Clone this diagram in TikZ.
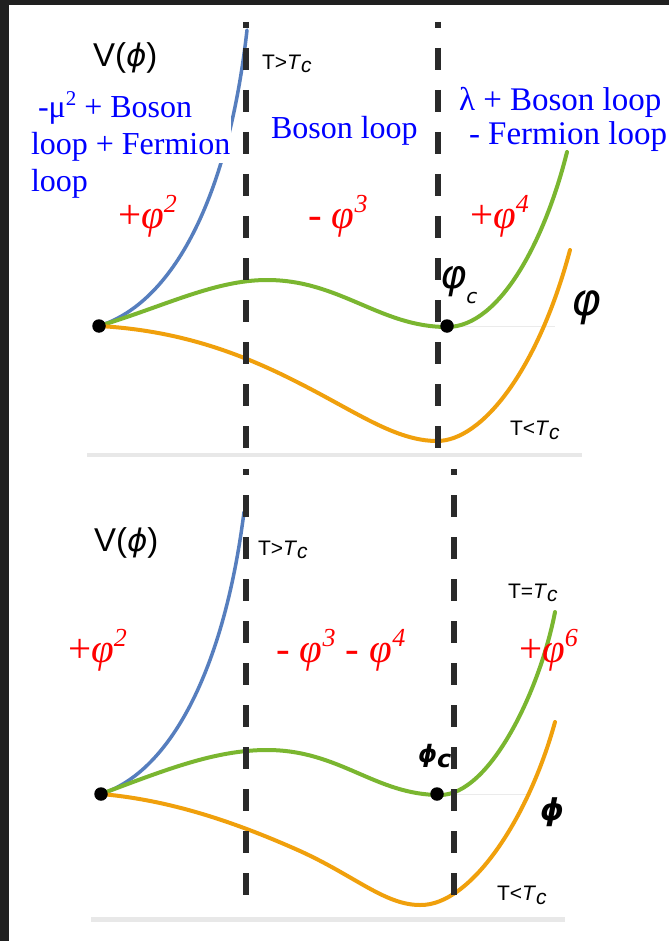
\documentclass[tikz,border=0pt]{standalone}
\usepackage{fontspec}
\setmainfont{Liberation Serif}
\newfontfamily\arialf{Liberation Sans}
\newfontfamily\dejavuf{DejaVu Sans}
\definecolor{txtblue}{RGB}{0,0,255}
\definecolor{txtred}{RGB}{255,0,0}
\definecolor{cblue}{RGB}{86,126,190}
\definecolor{cgreen}{RGB}{122,182,48}
\definecolor{corange}{RGB}{240,160,12}
\definecolor{divgray}{RGB}{42,42,42}
\definecolor{framedark}{RGB}{32,32,32}
\newcommand{\sups}[3]{\raisebox{#2}{\fontsize{#1}{#1}\selectfont #3}}
\newcommand{\stphi}[1]{{\dejavuf\itshape\fontsize{#1}{#1}\selectfont ϕ}}
\begin{document}
\begin{tikzpicture}[x=1pt,y=-1pt,
  lbl/.style={anchor=base west, inner sep=0pt, outer sep=0pt},
  bluetxt/.style={lbl, text=txtblue, font=\fontsize{32}{32}\selectfont},
  bluetxtr/.style={lbl, text=txtblue, font=\fontsize{33}{33}\selectfont},
  redtxt/.style={lbl, text=txtred, font=\fontsize{41}{41}\selectfont},
  tlbl/.style={lbl, font=\arialf\fontsize{21}{21}\selectfont},
  vlbl/.style={lbl, font=\arialf\fontsize{33}{33}\selectfont},
  divider/.style={line width=5.5pt, draw=divgray, dash pattern=on 22pt off 20pt, dash phase=16pt},
  bluecurve/.style={draw=cblue, line width=3.5pt, line cap=round},
  greencurve/.style={draw=cgreen, line width=4pt, line cap=round},
  orangecurve/.style={draw=corange, line width=4pt, line cap=round},
  edgeline/.style={fill=black!9},
  faint/.style={draw=black!8, line width=0.8pt},
  dotst/.style={circle, fill=black, minimum size=13.5pt, inner sep=0pt}
]
\useasboundingbox (0,0) rectangle (669,941);
\fill[white] (0,0) rectangle (669,941);
\fill[framedark] (0,0) rectangle (669,5);
\fill[framedark] (0,0) rectangle (9,941);

% ---------------- top panel ----------------
\fill[edgeline] (87,453) rectangle (582,457);
\draw[faint] (452,326) -- (555,326);

\coordinate (o1) at (99,326);
\coordinate (m1) at (447,327);
\draw[bluecurve] (o1) .. controls (172,303) and (228,200) .. (247,30);
\draw[greencurve] (o1) .. controls (165,306) and (215,280) .. (267,280)
   .. controls (340,280) and (380,327) .. (m1)
   .. controls (500,327) and (545,240) .. (567,152);
\draw[orangecurve] (o1) .. controls (170,330) and (230,348) .. (295,381)
   .. controls (355,411) and (395,441) .. (437,441)
   .. controls (482,441) and (538,370) .. (570,250);

\fill[white] (28,90) rectangle (231,163);

\node[dotst] (d1) at (99,326) {};
\node[dotst] (d2) at (447,326) {};

\coordinate (a1) at (246,22); \coordinate (a2) at (246,448);
\coordinate (b1) at (438,22); \coordinate (b2) at (438,448);
\draw[divider] (a1) -- (a2);
\draw[divider] (b1) -- (b2);

\node[vlbl] (v1) at (93,67) {V(\stphi{31})};
\node[tlbl] (tg1) at (262,70) {T>\textit{T}\raisebox{-3pt}{\textit{c}}};
\node[tlbl] (tl1) at (510,435) {T<\textit{T}\raisebox{-4pt}{\textit{c}}};

\node[bluetxt] (l1) at (38,118) {-μ\sups{21}{12pt}{2} + Boson};
\node[bluetxt] (l2) at (31,155) {loop + Fermion};
\node[bluetxt] (l3) at (31,192) {loop};
\node[bluetxt] (mid1) at (271,139) {Boson loop};
\node[bluetxtr] (r1) at (459,111) {λ + Boson loop};
\node[bluetxtr] (r2) at (469,145) {- Fermion loop};

\node[redtxt] (p2) at (118,229) {+\textit{φ}\sups{26}{16pt}{\textit{2}}};
\node[redtxt] (p3) at (308,229) {- \textit{φ}\sups{26}{16pt}{\textit{3}}};
\node[redtxt] (p4) at (470,229) {+\textit{φ}\sups{26}{16pt}{\textit{4}}};

\node[lbl, font=\dejavuf\itshape\fontsize{40}{40}\selectfont] (pc1) at (440,288) {φ\raisebox{-15pt}{\fontsize{20}{20}\selectfont c}};
\node[lbl, font=\dejavuf\itshape\fontsize{45}{45}\selectfont] (ph1) at (571,315) {φ};

% ---------------- bottom panel ----------------
\fill[edgeline] (91,917) rectangle (565,922);
\draw[faint] (452,794) -- (529,794);

\coordinate (o2) at (101,794);
\coordinate (m2) at (440,795);
\draw[bluecurve] (o2) .. controls (170,772) and (224,670) .. (244,512);
\draw[greencurve] (o2) .. controls (165,770) and (215,750) .. (267,750)
   .. controls (340,750) and (375,795) .. (m2)
   .. controls (490,795) and (540,690) .. (555,612);
\draw[orangecurve] (o2) .. controls (170,800) and (235,822) .. (300,851)
   .. controls (355,876) and (385,905) .. (420,905)
   .. controls (470,906) and (528,820) .. (555,722);

\node[dotst] (d3) at (101,794) {};
\node[dotst] (d4) at (437,794) {};

\coordinate (c1) at (246,469); \coordinate (c2) at (246,897);
\coordinate (e1) at (454,469); \coordinate (e2) at (454,897);
\draw[divider] (c1) -- (c2);
\draw[divider] (e1) -- (e2);

\node[vlbl] (v2) at (94,551) {V(\stphi{31})};
\node[tlbl] (tg2) at (258,555) {T>\textit{T}\raisebox{-3pt}{\textit{c}}};
\node[tlbl] (te2) at (508,598) {T=\textit{T}\raisebox{-3pt}{\textit{c}}};
\node[tlbl] (tl2) at (497,900) {T<\textit{T}\raisebox{-4pt}{\textit{c}}};

\node[redtxt] (q2) at (68,662) {+\textit{φ}\sups{26}{16pt}{\textit{2}}};
\node[redtxt] (q34) at (276,662) {- \textit{φ}\sups{26}{16pt}{\textit{3}} - \textit{φ}\sups{26}{16pt}{\textit{4}}};
\node[redtxt] (q6) at (519,662) {+\textit{φ}\sups{26}{16pt}{\textit{6}}};

\node[lbl, font=\dejavuf\bfseries\itshape\fontsize{24}{24}\selectfont] (pc2) at (418,762) {ϕ\raisebox{-5pt}{c}};
\node[lbl, font=\dejavuf\bfseries\itshape\fontsize{30}{30}\selectfont] (ph2) at (540,820) {ϕ};
\end{tikzpicture}
\end{document}
